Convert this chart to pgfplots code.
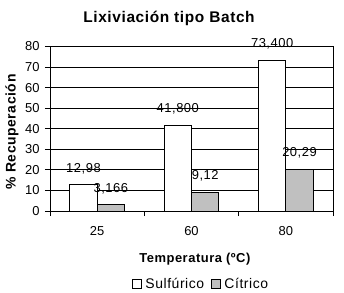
\documentclass[border=0pt]{standalone}
\usepackage{fontspec}
\setmainfont{Liberation Sans}
\newfontfamily\spaced[LetterSpace=4]{Liberation Sans}
\usepackage{pgfplots}
\pgfplotsset{compat=1.18}
\definecolor{cit}{RGB}{192,192,192}
\begin{document}
\begin{tikzpicture}
\begin{axis}[
  scale only axis, width=283bp, height=164.5bp,
  xmin=-0.5, xmax=2.5, ymin=0, ymax=80,
  ytick={0,10,...,80},
  xtick={-0.5,0.5,1.5,2.5},
  x tick label as interval,
  xticklabels={25,60,80},
  tick align=outside,
  tick pos=left,
  major tick length=5bp,
  ymajorgrids,
  grid style={black, line width=0.8bp},
  axis line style={line width=0.8bp},
  every tick/.style={black, line width=0.8bp},
  tick label style={font=\fontsize{13}{15}\selectfont},
  xticklabel style={yshift=-7bp},
  yticklabel style={xshift=-2bp},
  /pgf/number format/assume math mode=true,
  ybar=0pt, bar width=0.29,
  clip=false,
  title={Lixiviación tipo Batch},
  title style={font=\spaced\bfseries\fontsize{15.5}{17}\selectfont, at={(axis description cs:0.4205,1.132)}, anchor=center},
  xlabel={Temperatura (ºC)},
  xlabel style={font=\spaced\bfseries\fontsize{13}{15}\selectfont, at={(axis description cs:0.512,-0.295)}, anchor=center},
  ylabel={\% Recuperación},
  ylabel style={font=\spaced\bfseries\fontsize{14}{16}\selectfont, at={(axis description cs:-0.134,0.48)}, anchor=center},
  legend style={draw=none, at={(axis description cs:0.534,-0.444)}, anchor=center,
    font=\spaced\fontsize{14}{16}\selectfont, legend columns=2,
    /tikz/every odd column/.append style={column sep=2bp},
    /tikz/every even column/.append style={column sep=5bp}},
  legend image code/.code={\draw[#1,draw=black,line width=0.8bp] (0bp,-4bp) rectangle (8.5bp,4.5bp);},
  point meta=explicit symbolic,
  nodes near coords,
  every node near coord/.append style={font=\spaced\fontsize{13}{15}\selectfont, anchor=center, yshift=16bp},
]
\coordinate (O) at (rel axis cs:0,0);
\addplot[draw=black, fill=white, line width=0.8bp] coordinates {(0,12.98) [12,98] (1,41.8) [41,800] (2,73.4) [73,400]};
\addlegendentry{Sulfúrico}
\addplot[draw=black, fill=cit, line width=0.8bp] coordinates {(0,3.166) [3,166] (1,9.12) [9,12] (2,20.29) [20,29]};
\addlegendentry{Cítrico}
\end{axis}
\pgfresetboundingbox
\path (O) ++(-50bp,-82bp) rectangle ++(344bp,293bp);
\end{tikzpicture}
\end{document}
